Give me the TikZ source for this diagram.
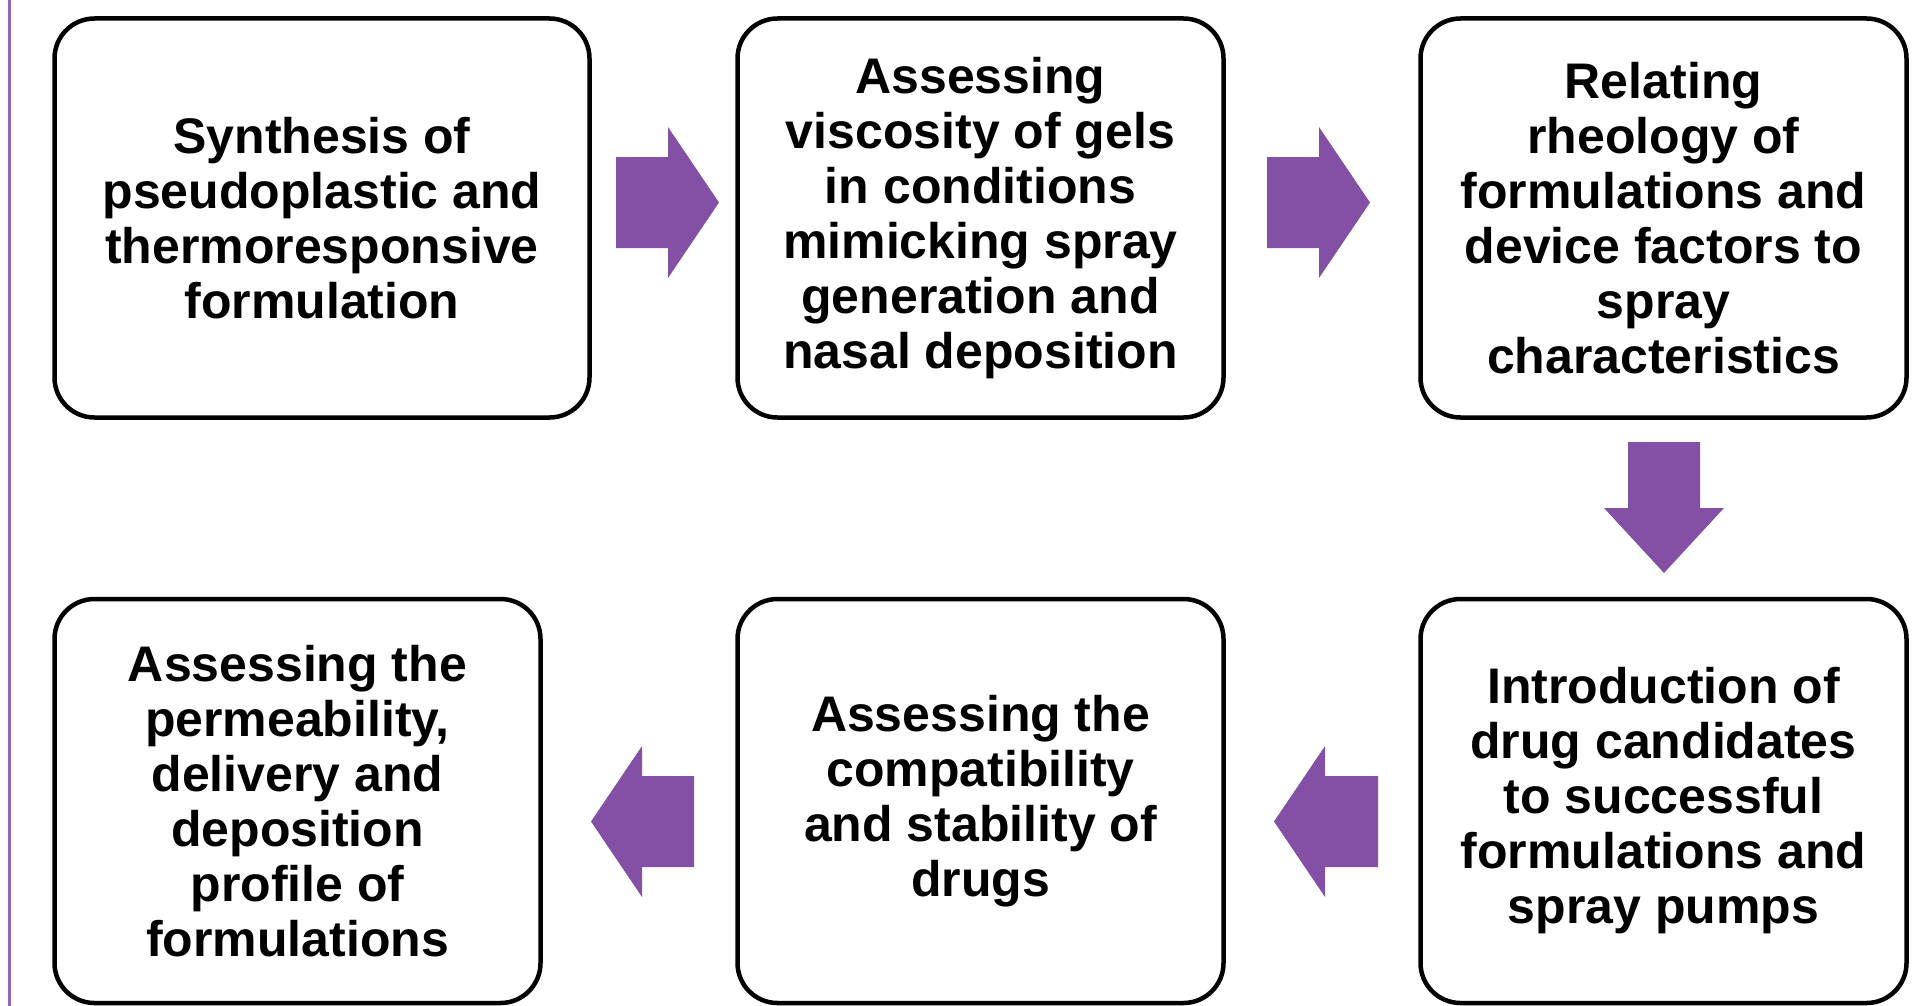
\documentclass[tikz,border=0pt]{standalone}
\usepackage{fontspec}
\setmainfont{Liberation Sans}
\definecolor{arrowpurple}{RGB}{132,80,165}
\definecolor{linepurple}{RGB}{150,100,190}
\begin{document}
\begin{tikzpicture}[x=1pt,y=-1pt,
  stepbox/.style={draw=black, line width=4.5pt, rounded corners=40pt, fill=white,
    align=center, inner sep=0pt, font=\fontsize{50}{55}\selectfont\bfseries},
  blockarrow/.style={fill=arrowpurple, draw=none}]
\useasboundingbox (0,0) rectangle (1927,1006);
\fill[linepurple] (8,0) rectangle (11,1006);
% top row
\node[stepbox, minimum width=535pt, minimum height=399pt] (b1) at (322,218)
  {Synthesis of\\pseudoplastic and\\thermoresponsive\\formulation};
\node[stepbox, minimum width=486pt, minimum height=399pt] (b2) at (980.5,218)
  {Assessing\\viscosity of gels\\in conditions\\mimicking spray\\generation and\\nasal deposition};
\node[stepbox, minimum width=486pt, minimum height=399pt] (b3) at (1663.5,218)
  {Relating\\rheology of\\formulations and\\device factors to\\spray\\characteristics};
% bottom row
\node[stepbox, minimum width=486pt, minimum height=404pt] (b4) at (297.5,801)
  {Assessing the\\permeability,\\delivery and\\deposition\\profile of\\formulations};
\node[stepbox, minimum width=486pt, minimum height=404pt] (b5) at (980.5,801)
  {Assessing the\\compatibility\\and stability of\\drugs};
\node[stepbox, minimum width=486pt, minimum height=404pt] (b6) at (1663.5,801)
  {Introduction of\\drug candidates\\to successful\\formulations and\\spray pumps};
% block arrows
\fill[blockarrow] (616,157) -- (668,157) -- (668,127) -- (719,202.5) -- (668,278) -- (668,248) -- (616,248) -- cycle;
\fill[blockarrow] (1267,157) -- (1319,157) -- (1319,127) -- (1370,202.5) -- (1319,278) -- (1319,248) -- (1267,248) -- cycle;
\fill[blockarrow] (1628,442) -- (1700,442) -- (1700,508) -- (1724,508) -- (1664,573) -- (1604,508) -- (1628,508) -- cycle;
\fill[blockarrow] (1378,776) -- (1325,776) -- (1325,746) -- (1274,821.5) -- (1325,897) -- (1325,867) -- (1378,867) -- cycle;
\fill[blockarrow] (694,776) -- (642,776) -- (642,746) -- (591,821.5) -- (642,897) -- (642,867) -- (694,867) -- cycle;
\end{tikzpicture}
\end{document}
